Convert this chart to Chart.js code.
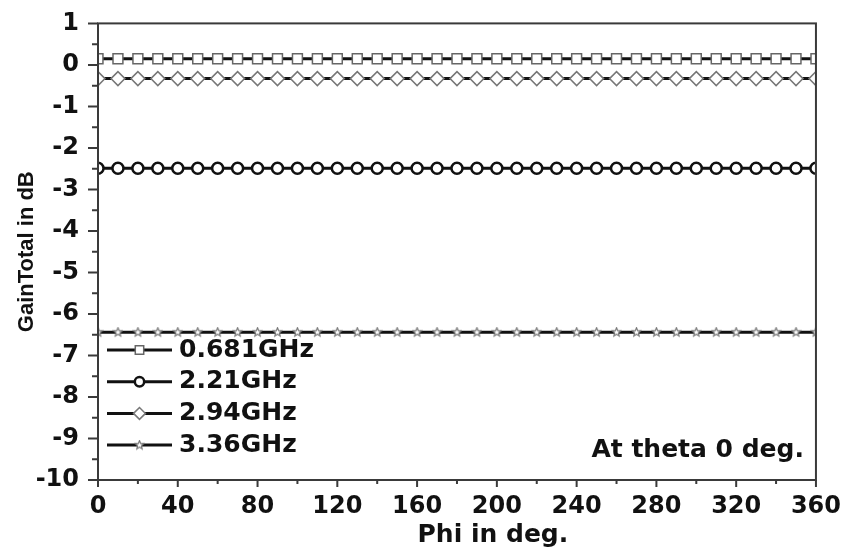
<!DOCTYPE html>
<html>
<head>
<meta charset="utf-8">
<script src="https://cdn.jsdelivr.net/npm/chart.js@4.4.1/dist/chart.umd.min.js"></script>
<style>
  body { margin: 0; background: #fff; }
</style>
</head>
<body>
<canvas id="gainChart" width="846" height="552"></canvas>
<script>
// Phi angle (deg) where each marker sits
var phi = [0, 10, 20, 30, 40, 50, 60, 70, 80, 90, 100, 110, 120, 130, 140, 150, 160, 170, 180,
           190, 200, 210, 220, 230, 240, 250, 260, 270, 280, 290, 300, 310, 320, 330, 340, 350, 360];

// GainTotal (dB) at theta 0
var gain0681 = [0.15, 0.15, 0.15, 0.15, 0.15, 0.15, 0.15, 0.15, 0.15, 0.15, 0.15, 0.15, 0.15, 0.15, 0.15, 0.15, 0.15, 0.15, 0.15,
                0.15, 0.15, 0.15, 0.15, 0.15, 0.15, 0.15, 0.15, 0.15, 0.15, 0.15, 0.15, 0.15, 0.15, 0.15, 0.15, 0.15, 0.15];
var gain221 = [-2.49, -2.49, -2.49, -2.49, -2.49, -2.49, -2.49, -2.49, -2.49, -2.49, -2.49, -2.49, -2.49, -2.49, -2.49, -2.49, -2.49, -2.49, -2.49,
               -2.49, -2.49, -2.49, -2.49, -2.49, -2.49, -2.49, -2.49, -2.49, -2.49, -2.49, -2.49, -2.49, -2.49, -2.49, -2.49, -2.49, -2.49];
var gain294 = [-0.33, -0.33, -0.33, -0.33, -0.33, -0.33, -0.33, -0.33, -0.33, -0.33, -0.33, -0.33, -0.33, -0.33, -0.33, -0.33, -0.33, -0.33, -0.33,
               -0.33, -0.33, -0.33, -0.33, -0.33, -0.33, -0.33, -0.33, -0.33, -0.33, -0.33, -0.33, -0.33, -0.33, -0.33, -0.33, -0.33, -0.33];
var gain336 = [-6.44, -6.44, -6.44, -6.44, -6.44, -6.44, -6.44, -6.44, -6.44, -6.44, -6.44, -6.44, -6.44, -6.44, -6.44, -6.44, -6.44, -6.44, -6.44,
               -6.44, -6.44, -6.44, -6.44, -6.44, -6.44, -6.44, -6.44, -6.44, -6.44, -6.44, -6.44, -6.44, -6.44, -6.44, -6.44, -6.44, -6.44];

var seriesLabels = ['0.681GHz', '2.21GHz', '2.94GHz', '3.36GHz'];
var xMin = 0, xMax = 360, xMajorStep = 40, xMinorStep = 20;
var yMin = -10, yMax = 1, yMajorStep = 1, yMinorStep = 0.5;
var xTitle = 'Phi in deg.';
var yTitle = 'GainTotal in dB';
var noteText = 'At theta 0 deg.';

Chart.defaults.font.family = "'DejaVu Sans', sans-serif";
Chart.defaults.color = '#111';

// small open star used as marker for the 3.36GHz curve
function makeStar(size, stroke) {
    var c = document.createElement('canvas');
    c.width = size; c.height = size;
    var g = c.getContext('2d');
    var cx = size / 2, cy = size / 2, ro = size / 2 - 1, ri = ro * 0.45;
    g.beginPath();
    for (var i = 0; i < 10; i++) {
        var r = i % 2 ? ri : ro;
        var a = -Math.PI / 2 + i * Math.PI / 5;
        g.lineTo(cx + r * Math.cos(a), cy + r * Math.sin(a));
    }
    g.closePath();
    g.fillStyle = '#fff';
    g.fill();
    g.strokeStyle = stroke;
    g.lineWidth = 1.2;
    g.stroke();
    return c;
}

function toPoints(ys) {
    return phi.map(function (p, i) { return { x: p, y: ys[i] }; });
}

function series(label, values, style, radius, markerColor, markerWidth) {
    return {
        label: label,
        data: toPoints(values),
        borderColor: '#111',
        borderWidth: 3,
        tension: 0,
        pointStyle: style,
        pointRadius: radius,
        pointBorderColor: markerColor,
        pointBorderWidth: markerWidth,
        pointBackgroundColor: '#fff',
        clip: 0
    };
}

var datasets = [
    series(seriesLabels[0], gain0681, 'rect', 7, '#666', 1.5),
    series(seriesLabels[1], gain221, 'circle', 5.5, '#111', 2.5),
    series(seriesLabels[2], gain294, 'rectRot', 7, '#777', 1.5),
    series(seriesLabels[3], gain336, makeStar(11, '#777'), 5, '#777', 1)
];

// frame, tick marks, x title, in-plot legend and note
var framePlugin = {
    id: 'frame',
    afterDraw: function (chart) {
        var ctx = chart.ctx, a = chart.chartArea;
        var xs = chart.scales.x, ys = chart.scales.y;
        ctx.save();
        ctx.strokeStyle = '#3a3a3a';
        ctx.lineWidth = 2;
        ctx.strokeRect(a.left, a.top, a.right - a.left, a.bottom - a.top);

        ctx.beginPath();
        xs.ticks.forEach(function (t) {
            var px = xs.getPixelForValue(t.value);
            var len = t.value % xMajorStep === 0 ? 7 : 4;
            ctx.moveTo(px, a.bottom);
            ctx.lineTo(px, a.bottom + len);
        });
        ys.ticks.forEach(function (t) {
            var py = ys.getPixelForValue(t.value);
            var len = t.value % yMajorStep === 0 ? 10 : 6;
            ctx.moveTo(a.left, py);
            ctx.lineTo(a.left - len, py);
        });
        ctx.stroke();

        // x axis title sits a little right of centre in the original
        ctx.fillStyle = '#111';
        ctx.font = "bold 25px 'DejaVu Sans'";
        ctx.textAlign = 'center';
        ctx.textBaseline = 'middle';
        ctx.fillText(xTitle, a.left + (a.right - a.left) * 0.55, 535);

        // legend inside the plot, lower left
        ctx.textAlign = 'left';
        chart.data.datasets.forEach(function (ds, i) {
            var cy = a.bottom - 130 + i * 31.7;
            var x0 = a.left + 9, x1 = a.left + 74, xm = (x0 + x1) / 2;
            ctx.strokeStyle = '#111';
            ctx.lineWidth = 3;
            ctx.beginPath();
            ctx.moveTo(x0, cy);
            ctx.lineTo(x1, cy);
            ctx.stroke();
            ctx.fillStyle = ds.pointBackgroundColor;
            ctx.strokeStyle = ds.pointBorderColor;
            ctx.lineWidth = ds.pointBorderWidth;
            Chart.helpers.drawPoint(ctx, {
                pointStyle: ds.pointStyle,
                radius: ds.pointRadius * 0.85,
                rotation: 0,
                borderWidth: ds.pointBorderWidth
            }, xm, cy);
            ctx.fillStyle = '#111';
            ctx.fillText(ds.label, a.left + 81, cy);
        });

        ctx.textAlign = 'right';
        ctx.fillText(noteText, a.right - 12, a.bottom - 30);
        ctx.restore();
    }
};

var ctx = document.getElementById('gainChart').getContext('2d');
var gainChart = new Chart(ctx, {
    type: 'line',
    data: { datasets: datasets },
    options: {
        responsive: false,
        animation: false,
        layout: { padding: { top: 19, right: 29, left: 0, bottom: 0 } },
        plugins: {
            legend: { display: false },
            tooltip: { enabled: false }
        },
        scales: {
            x: {
                type: 'linear',
                min: xMin,
                max: xMax,
                afterFit: function (scale) { scale.height = 72; },
                border: { display: false },
                grid: { drawOnChartArea: false, drawTicks: true, tickLength: 7, color: 'transparent' },
                ticks: {
                    stepSize: xMinorStep,
                    autoSkip: false,
                    maxRotation: 0,
                    padding: 5,
                    font: { size: 24, weight: 'bold' },
                    callback: function (v) { return v % xMajorStep === 0 ? v : ''; }
                }
            },
            y: {
                min: yMin,
                max: yMax,
                afterFit: function (scale) { scale.width = 98; },
                border: { display: false },
                grid: { drawOnChartArea: false, drawTicks: true, tickLength: 10, color: 'transparent' },
                ticks: {
                    stepSize: yMinorStep,
                    autoSkip: false,
                    padding: 9,
                    font: { size: 24, weight: 'bold' },
                    callback: function (v) { return v % yMajorStep === 0 ? v : ''; }
                },
                title: {
                    display: true,
                    text: yTitle,
                    font: { family: "'Liberation Sans', Arial, sans-serif", size: 22, weight: 'bold' },
                    padding: { top: 14, bottom: 0 }
                }
            }
        }
    },
    plugins: [framePlugin]
});
</script>
</body>
</html>
